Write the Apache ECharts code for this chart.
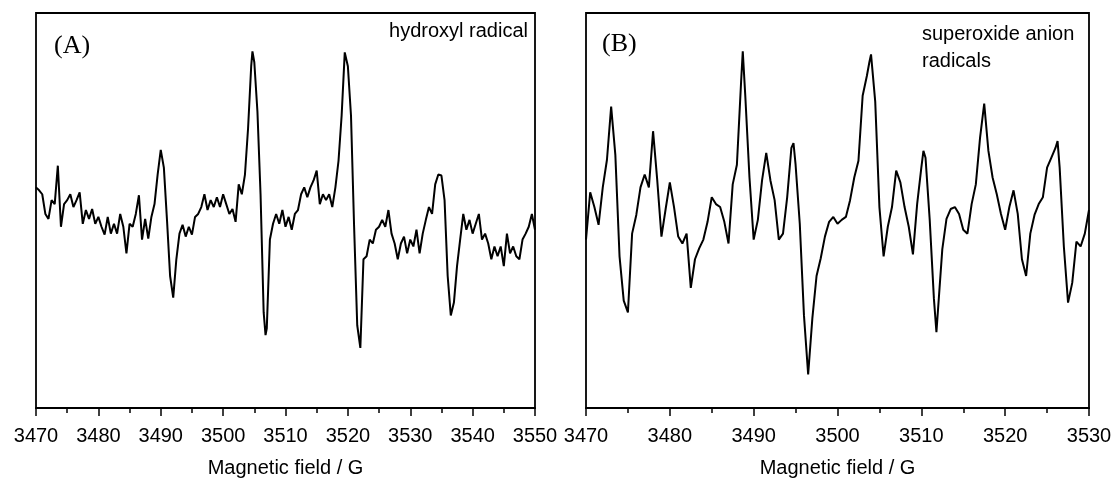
<!DOCTYPE html>
<html lang="en">
<head>
<meta charset="UTF-8">
<script src="https://cdn.jsdelivr.net/npm/echarts@6/dist/echarts.min.js"></script>
<style>
  body { margin: 0; background: #fff; }
  #main { width: 1116px; height: 483px; }
</style>
</head>
<body>
<div id="main"></div>
<script>
  // field (G) / intensity (a.u.)
  var hydroxylSpectrum = [
    [3470,224],[3470.5,221],[3471,217],[3471.5,197],[3472,192],[3472.5,211],[3473,207],[3473.5,246],[3474,184],[3474.5,207],
    [3475,211],[3475.5,217],[3476,204],[3476.5,211],[3477,219],[3477.5,187],[3478,201],[3478.5,192],[3479,202],[3479.5,187],
    [3480,194],[3480.5,184],[3481,176],[3481.5,194],[3482,177],[3482.5,187],[3483,177],[3483.5,197],[3484,184],[3484.5,157],
    [3485,187],[3485.5,184],[3486,197],[3486.5,216],[3487,171],[3487.5,192],[3488,172],[3488.5,194],[3489,207],[3489.5,237],
    [3490,262],[3490.5,244],[3491,191],[3491.5,134],[3492,112],[3492.5,151],[3493,177],[3493.5,186],[3494,174],[3494.5,184],
    [3495,176],[3495.5,194],[3496,197],[3496.5,204],[3497,217],[3497.5,201],[3498,211],[3498.5,204],[3499,214],[3499.5,204],
    [3500,217],[3500.5,207],[3501,197],[3501.5,202],[3502,189],[3502.5,227],[3503,217],[3503.5,237],[3504,284],[3504.5,347],
    [3504.7,362],[3505,351],[3505.5,301],[3506,217],[3506.5,97],[3506.8,74],[3507,81],[3507.5,171],[3508,187],[3508.5,197],
    [3509,187],[3509.5,201],[3510,184],[3510.5,194],[3511,181],[3511.5,197],[3512,201],[3512.5,217],[3513,224],[3513.5,214],
    [3514,224],[3514.5,231],[3515,241],[3515.5,207],[3516,217],[3516.5,211],[3517,217],[3517.5,204],[3518,224],[3518.5,251],
    [3519,297],[3519.5,361],[3520,347],[3520.5,297],[3521,184],[3521.5,84],[3522,61],[3522.5,151],[3523,154],[3523.5,171],
    [3524,167],[3524.5,181],[3525,184],[3525.5,191],[3526,184],[3526.5,201],[3527,177],[3527.5,167],[3528,151],[3528.5,167],
    [3529,174],[3529.5,157],[3530,171],[3530.5,164],[3531,181],[3531.5,157],[3532,177],[3532.5,191],[3533,204],[3533.5,197],
    [3534,227],[3534.5,237],[3535,236],[3535.5,211],[3536,134],[3536.5,94],[3537,107],[3537.5,144],[3538,171],[3538.5,197],
    [3539,181],[3539.5,191],[3540,177],[3540.5,187],[3541,197],[3541.5,171],[3542,177],[3542.5,167],[3543,151],[3543.5,164],
    [3544,154],[3544.5,164],[3545,144],[3545.5,177],[3546,157],[3546.5,164],[3547,154],[3547.5,151],[3548,171],[3548.5,177],
    [3549,184],[3549.5,197],[3550,181]
  ];

  var superoxideSpectrum = [
    [3470,171],[3470.5,219],[3471,204],[3471.5,186],[3472,224],[3472.5,252],[3473,306],[3473.5,257],[3474,154],[3474.5,109],
    [3475,97],[3475.5,177],[3476,196],[3476.5,224],[3477,237],[3477.5,224],[3478,281],[3478.5,231],[3479,174],[3479.5,202],
    [3480,229],[3480.5,204],[3481,174],[3481.5,167],[3482,177],[3482.5,122],[3483,151],[3483.5,162],[3484,171],[3484.5,189],
    [3485,214],[3485.5,207],[3486,204],[3486.5,189],[3487,167],[3487.5,227],[3488,247],[3488.5,331],[3488.7,362],[3489,317],
    [3489.5,234],[3490,171],[3490.5,191],[3491,231],[3491.5,259],[3492,231],[3492.5,211],[3493,171],[3493.5,177],[3494,214],
    [3494.5,264],[3494.75,269],[3495,247],[3495.5,187],[3496,94],[3496.5,34],[3497,91],[3497.5,134],[3498,152],[3498.5,174],
    [3499,189],[3499.5,194],[3500,187],[3500.5,191],[3501,194],[3501.5,211],[3502,234],[3502.5,251],[3503,317],[3503.5,337],
    [3503.8,351],[3504,359],[3504.5,311],[3505,204],[3505.5,154],[3506,184],[3506.5,204],[3507,241],[3507.5,229],[3508,204],
    [3508.5,184],[3509,156],[3509.5,207],[3510,244],[3510.25,261],[3510.5,254],[3511,191],[3511.5,111],[3511.8,77],[3512,101],
    [3512.5,161],[3513,192],[3513.5,202],[3514,204],[3514.5,197],[3515,181],[3515.5,177],[3516,207],[3516.5,227],[3517,274],
    [3517.5,309],[3518,261],[3518.5,234],[3519,217],[3519.5,197],[3520,181],[3520.5,204],[3521,221],[3521.5,197],[3522,151],
    [3522.5,134],[3523,177],[3523.5,196],[3524,207],[3524.5,214],[3525,244],[3525.5,254],[3526,264],[3526.25,271],[3526.5,244],
    [3527,164],[3527.5,107],[3528,127],[3528.5,169],[3529,164],[3529.5,177],[3530,201]
  ];

  var rangeA = [3470, 3550];
  var rangeB = [3470, 3530];
  var tickStep = 10;
  var axisTitle = 'Magnetic field / G';
  var panelTags = ['(A)', '(B)'];
  var panelNotes = ['hydroxyl radical', 'superoxide anion\nradicals'];

  var chart = echarts.init(document.getElementById('main'));

  function fieldAxis(idx, range) {
    return {
      type: 'value',
      gridIndex: idx,
      min: range[0],
      max: range[1],
      interval: tickStep,
      name: axisTitle,
      nameLocation: 'middle',
      nameGap: 50,
      nameTextStyle: { color: '#000', fontSize: 20, fontFamily: 'Liberation Sans, Arial' },
      axisLine: { show: true, onZero: false, lineStyle: { color: '#000', width: 1.8 } },
      axisTick: { show: true, inside: false, length: 8, lineStyle: { color: '#000', width: 1.5 } },
      minorTick: { show: true, splitNumber: 2, length: 5, lineStyle: { color: '#000', width: 1.5 } },
      axisLabel: {
        color: '#000', fontSize: 20, margin: 18, fontFamily: 'Liberation Sans, Arial',
        showMinLabel: true, showMaxLabel: true,
        formatter: function (v) { return String(v); }
      },
      splitLine: { show: false }
    };
  }

  function hiddenAxis(idx) {
    return { type: 'value', gridIndex: idx, min: 0, max: 401, show: false };
  }

  var frame = { show: true, borderColor: '#000', borderWidth: 1.8, backgroundColor: 'transparent' };

  var option = {
    backgroundColor: '#fff',
    animation: false,
    grid: [
      Object.assign({ left: 36, right: 581, top: 13, bottom: 69 }, frame),
      Object.assign({ left: 586, right: 27, top: 13, bottom: 69 }, frame)
    ],
    xAxis: [fieldAxis(0, rangeA), fieldAxis(1, rangeB)],
    yAxis: [hiddenAxis(0), hiddenAxis(1)],
    series: [
      {
        type: 'line', xAxisIndex: 0, yAxisIndex: 0, data: hydroxylSpectrum,
        showSymbol: false, lineStyle: { color: '#000', width: 2 }
      },
      {
        type: 'line', xAxisIndex: 1, yAxisIndex: 1, data: superoxideSpectrum,
        showSymbol: false, lineStyle: { color: '#000', width: 2 }
      }
    ],
    graphic: [
      { type: 'text', left: 54, top: 33, style: { text: panelTags[0], fill: '#000', font: '26px "Liberation Serif", "Times New Roman", serif' } },
      { type: 'text', left: 602, top: 31, style: { text: panelTags[1], fill: '#000', font: '26px "Liberation Serif", "Times New Roman", serif' } },
      { type: 'text', right: 1116 - 528, top: 21, style: { text: panelNotes[0], fill: '#000', font: '20px "Liberation Sans", Arial, sans-serif', align: 'right' } },
      { type: 'text', left: 922, top: 21, style: { text: panelNotes[1], fill: '#000', font: '20px "Liberation Sans", Arial, sans-serif', lineHeight: 27 } }
    ]
  };

  chart.setOption(option);
</script>
</body>
</html>
